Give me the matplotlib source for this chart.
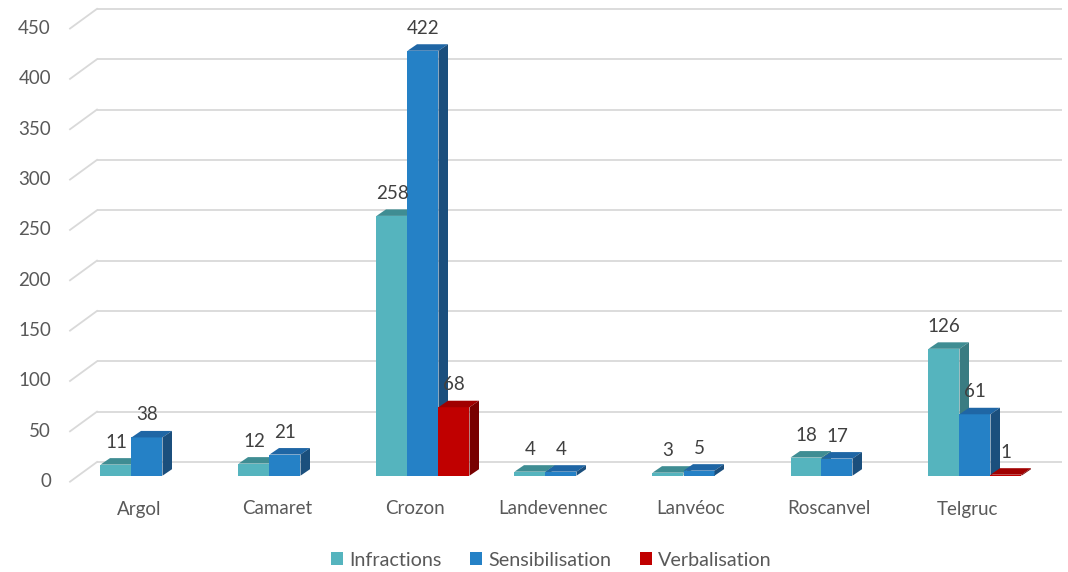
import matplotlib
matplotlib.use("Agg")
import matplotlib.pyplot as plt
from matplotlib.patches import Polygon, Patch
import numpy as np

# ---------------- data ----------------
categories = ["Argol", "Camaret", "Crozon", "Landevennec", "Lanvéoc", "Roscanvel", "Telgruc"]
series_names = ["Infractions", "Sensibilisation", "Verbalisation"]
infractions = [11, 12, 258, 4, 3, 18, 126]
sensibilisation = [38, 21, 422, 4, 5, 17, 61]
verbalisation = [None, None, 68, None, None, None, 1]
yticks = [0, 50, 100, 150, 200, 250, 300, 350, 400, 450]

# ---------------- style ----------------
front_cols = ["#55B4BE", "#2581C6", "#C00000"]
top_cols = ["#3F8D93", "#1F66A5", "#A00000"]
side_cols = ["#3A7C82", "#1B4F7D", "#780000"]
text_col = "#595959"
grid_col = "#D9D9D9"
FONT = "Lato"
FS = 13.5
FS_LEG = 14.2

W, H = 1068, 572
fig = plt.figure(figsize=(W / 100, H / 100), dpi=100)
ax = fig.add_axes([0, 0, 1, 1])
ax.set_axis_off()

# pixel layout constants
PX_CAT = 138.0          # pixels per category
X0 = 139.0              # pixel x of first category label
PX_UNIT = 1.007         # pixels per value unit
Y0_BOTTOM = H - 475.7   # pixel (from bottom) of bar base

ax.set_xlim(-X0 / PX_CAT, (W - X0) / PX_CAT)
ax.set_ylim(-Y0_BOTTOM / PX_UNIT, (H - Y0_BOTTOM) / PX_UNIT)

def px_x(p):  # absolute pixel x -> data x
    return (p - X0) / PX_CAT

def dx(p):  # pixel length -> data x length
    return p / PX_CAT

def dy(p):  # pixel length -> data y length
    return p / PX_UNIT

# gridlines (back wall + floor diagonal)
back_dy = dy(13.7)
front_dy = -dy(6.0)
for v in yticks:
    ax.plot([px_x(97), px_x(1062)], [v + back_dy, v + back_dy],
            color=grid_col, lw=1.3, zorder=1, solid_capstyle="butt")
    ax.plot([px_x(70), px_x(97)], [v + front_dy, v + back_dy],
            color=grid_col, lw=1.3, zorder=1)
    ax.text(px_x(51), v + front_dy, str(v), ha="right", va="center",
            fontsize=FS, color=text_col, family=FONT)

# bars
bar_w = dx(31)
group_shift = dx(8)
ddx, ddy = dx(9.5), dy(6.5)
series = [infractions, sensibilisation, verbalisation]
x = np.arange(len(categories))
z = 3
for i in range(len(categories)):
    for k, vals in enumerate(series):
        v = vals[i]
        if v is None:
            continue
        xc = x[i] + group_shift + (k - 1) * bar_w
        bars = ax.bar([xc], [v], width=bar_w, color=front_cols[k],
                      linewidth=0, zorder=z)
        r = bars[0]
        x0, x1, h = r.get_x(), r.get_x() + r.get_width(), r.get_height()
        top = Polygon([(x0, h), (x1, h), (x1 + ddx, h + ddy), (x0 + ddx, h + ddy)],
                      closed=True, facecolor=top_cols[k], edgecolor="none", zorder=z)
        side = Polygon([(x1, 0), (x1, h), (x1 + ddx, h + ddy), (x1 + ddx, ddy)],
                       closed=True, facecolor=side_cols[k], edgecolor="none", zorder=z)
        ax.add_patch(top)
        ax.add_patch(side)
        z += 1

# data labels (on top of everything)
for i in range(len(categories)):
    for k, vals in enumerate(series):
        v = vals[i]
        if v is None:
            continue
        xc = x[i] + group_shift + (k - 1) * bar_w
        ax.annotate(str(v), (xc, v), xytext=(0, 22.5 * 0.72), textcoords="offset points",
                    ha="center", va="center", fontsize=FS, color="#404040",
                    family=FONT, zorder=100)

# category labels
cat_y = -dy(509 - 475.7)
for i, c in enumerate(categories):
    ax.text(x[i], cat_y, c, ha="center", va="center", fontsize=FS,
            color=text_col, family=FONT)

# legend
handles = [Patch(facecolor=front_cols[k], edgecolor="none", label=series_names[k])
           for k in range(3)]
fig.legend(handles=handles, loc="center", bbox_to_anchor=(551 / W, 1 - 560 / H),
           ncol=3, frameon=False, labelcolor=text_col,
           handlelength=0.62, handleheight=0.62, handletextpad=0.3,
           columnspacing=1.45, prop={"family": FONT, "size": FS_LEG})

fig.savefig("out.png", dpi=100)
